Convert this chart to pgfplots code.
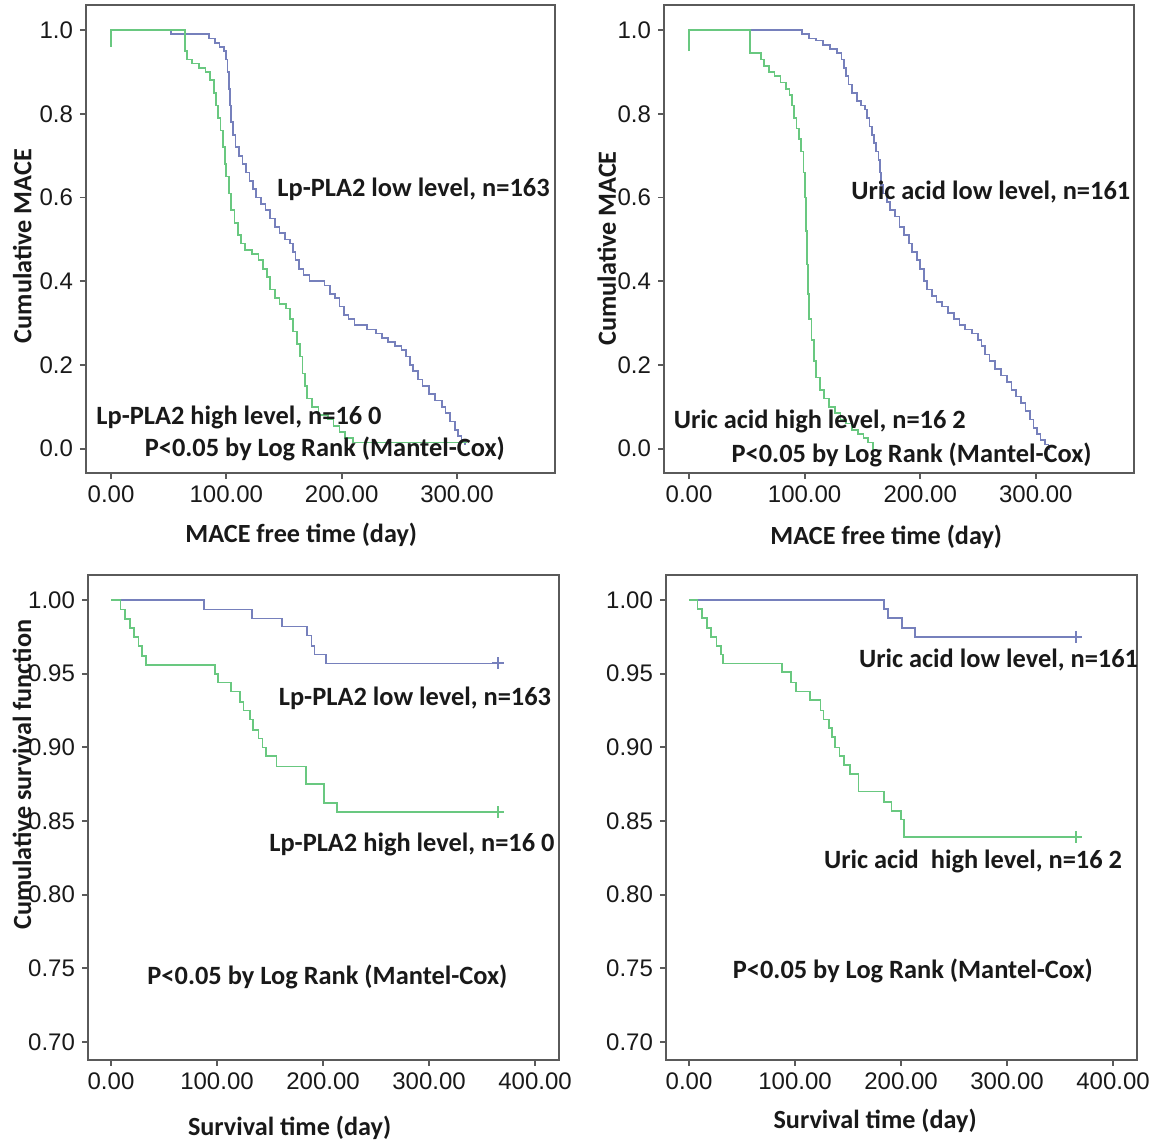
\documentclass[border=0pt]{standalone}
\usepackage{fontspec}
\setmainfont{Carlito}
\newfontfamily\tickfont{Liberation Sans}
\usepackage{pgfplots}
\pgfplotsset{compat=1.18}
\definecolor{kmblue}{RGB}{118,128,188}
\definecolor{kmgreen}{RGB}{105,200,128}
\definecolor{axisgray}{RGB}{90,90,90}
\definecolor{txt}{RGB}{25,25,25}

\pgfplotstableread{
x y
0 1.0
52 0.99
85 0.98
90 0.97
94 0.96
98 0.95
100 0.93
101 0.90
102 0.86
103 0.82
104 0.78
106 0.75
108 0.72
111 0.70
114 0.68
117 0.66
120 0.64
123 0.62
126 0.60
130 0.585
134 0.57
138 0.55
142 0.53
146 0.515
151 0.50
155 0.49
158 0.47
160 0.45
163 0.43
167 0.415
172 0.40
185 0.39
190 0.37
194 0.36
198 0.34
202 0.32
206 0.31
211 0.295
222 0.285
230 0.275
235 0.265
240 0.255
246 0.245
252 0.235
256 0.22
259 0.20
262 0.185
266 0.165
270 0.15
276 0.13
281 0.115
287 0.10
290 0.085
294 0.065
298 0.045
301 0.03
304 0.02
307 0.012
308 0.012
}\tlblue

\pgfplotstableread{
x y
0 0.96
0 1.0
64 0.95
66 0.93
70 0.92
76 0.91
82 0.90
86 0.88
89 0.85
91 0.82
93 0.79
95 0.76
97 0.72
99 0.68
100 0.65
102 0.61
104 0.57
107 0.54
110 0.51
113 0.49
116 0.475
122 0.465
128 0.45
132 0.43
135 0.41
138 0.38
142 0.36
146 0.345
152 0.335
155 0.31
158 0.28
161 0.25
164 0.22
166 0.18
168 0.15
170 0.12
174 0.10
180 0.08
188 0.07
193 0.055
198 0.04
203 0.025
210 0.015
309 0.015
}\tlgreen

\pgfplotstableread{
x y
0 1.0
98 0.99
104 0.98
110 0.975
116 0.965
122 0.955
128 0.945
132 0.93
134 0.91
136 0.89
138 0.87
141 0.85
145 0.83
149 0.82
152 0.81
154 0.79
156 0.77
158 0.75
160 0.73
162 0.71
164 0.69
165 0.66
166 0.63
168 0.61
171 0.59
174 0.57
178 0.555
182 0.53
186 0.51
190 0.49
193 0.47
197 0.45
200 0.43
203 0.40
206 0.38
210 0.365
214 0.35
219 0.34
224 0.325
229 0.31
234 0.295
239 0.285
245 0.275
250 0.26
253 0.245
256 0.225
260 0.21
265 0.19
270 0.175
275 0.16
279 0.14
283 0.125
287 0.11
291 0.09
295 0.07
298 0.05
301 0.035
304 0.02
308 0.01
311 0.0
312 0.0
}\trblue

\pgfplotstableread{
x y
0 0.95
0 1.0
53 0.945
62 0.93
65 0.915
69 0.90
74 0.89
79 0.875
84 0.86
87 0.845
89 0.82
91 0.79
93 0.765
95 0.74
97 0.71
99 0.66
100 0.60
101 0.52
102 0.44
103 0.37
104 0.31
106 0.26
108 0.21
110 0.17
113 0.14
117 0.12
121 0.10
126 0.085
131 0.07
136 0.06
141 0.045
146 0.035
151 0.025
155 0.015
159 0.0
160 0.0
}\trgreen

\pgfplotstableread{
x y
0 1.0
88 0.9935
133 0.9875
161 0.982
185 0.976
189 0.969
192 0.963
203 0.957
365 0.957
}\blblue

\pgfplotstableread{
x y
0 1.0
9 0.9935
13 0.987
18 0.981
22 0.975
26 0.969
29 0.962
33 0.956
98 0.950
101 0.944
113 0.938
122 0.931
125 0.925
131 0.919
134 0.912
139 0.906
143 0.900
146 0.894
156 0.887
184 0.875
201 0.862
213 0.856
365 0.856
}\blgreen

\pgfplotstableread{
x y
0 1.0
184 0.994
188 0.988
201 0.981
213 0.975
365 0.975
}\brblue

\pgfplotstableread{
x y
0 1.0
8 0.994
12 0.988
17 0.981
21 0.975
26 0.969
30 0.963
32 0.957
88 0.951
96 0.944
101 0.938
114 0.932
124 0.925
127 0.919
132 0.913
135 0.907
138 0.900
142 0.894
146 0.888
152 0.882
160 0.870
184 0.863
191 0.857
200 0.851
203 0.839
365 0.839
}\brgreen

\tikzset{ann/.style={anchor=west, font=\bfseries\fontsize{13.2}{15}\selectfont, text=txt, inner sep=0pt}}

\pgfplotsset{
  kmaxis/.style={
    scale only axis,
    anchor=south west,
    clip mode=individual,
    axis line style={draw=axisgray, line width=0.9pt},
    tick align=outside,
    tick pos=left,
    major tick length=3pt,
    every tick/.style={draw=axisgray, line width=0.9pt},
    ticklabel style={font=\tickfont\fontsize{12}{14}\selectfont, text=txt},
    label style={font=\bfseries\fontsize{13.1}{15}\selectfont, text=txt},
  },
  kmtop/.style={
    kmaxis,
    width=234.5pt, height=234pt,
    xmin=-21.7, xmax=385, ymin=-0.058, ymax=1.06,
    xtick={0,100,200,300}, xticklabels={0.00,100.00,200.00,300.00},
    ytick={0,0.2,0.4,0.6,0.8,1.0}, yticklabels={0.0,0.2,0.4,0.6,0.8,1.0},
  },
  kmbot/.style={
    kmaxis,
    width=235.5pt, height=242.5pt,
    xmin=-21.7, xmax=422.6, ymin=0.6878, ymax=1.017,
    xtick={0,100,200,300,400}, xticklabels={0.00,100.00,200.00,300.00,400.00},
    ytick={0.70,0.75,0.80,0.85,0.90,0.95,1.00}, yticklabels={0.70,0.75,0.80,0.85,0.90,0.95,1.00},
  },
  bl/.style={const plot, color=kmblue, line width=0.85pt, no marks},
  gr/.style={const plot, color=kmgreen, line width=0.85pt, no marks},
}

\begin{document}
\begin{tikzpicture}
\useasboundingbox (0,0) rectangle (578pt,571.5pt);

% top-left
\begin{axis}[kmtop, at={(43pt,335pt)},
  xlabel={MACE free time (day)}, ylabel={Cumulative MACE},
  xlabel style={at={(axis description cs:0.459,-0.132)}, anchor=center},
  ylabel style={at={(axis description cs:-0.136,0.485)}, anchor=center}]
\addplot[bl] table {\tlblue};
\addplot[gr] table {\tlgreen};
\node[ann] at (axis cs:144,0.62) {Lp-PLA2 low level, n=163};
\node[ann] at (axis cs:-13,0.075) {Lp-PLA2 high level, n=16 0};
\node[ann] at (axis cs:29,0.0) {P<0.05 by Log Rank (Mantel-Cox)};
\end{axis}

% top-right
\begin{axis}[kmtop, at={(332pt,335pt)}, width=235pt,
  xlabel={MACE free time (day)}, ylabel={Cumulative MACE},
  xlabel style={at={(axis description cs:0.473,-0.137)}, anchor=center},
  ylabel style={at={(axis description cs:-0.122,0.48)}, anchor=center}]
\addplot[bl] table {\trblue};
\addplot[gr] table {\trgreen};
\node[ann] at (axis cs:140,0.614) {Uric acid low level, n=161};
\node[ann] at (axis cs:-13.6,0.066) {Uric acid high level, n=16 2};
\node[ann] at (axis cs:36.5,-0.014) {P<0.05 by Log Rank (Mantel-Cox)};
\end{axis}

% bottom-left
\begin{axis}[kmbot, at={(44pt,41.5pt)},
  xlabel={Survival time (day)}, ylabel={Cumulative survival function},
  xlabel style={at={(axis description cs:0.428,-0.14)}, anchor=center},
  ylabel style={at={(axis description cs:-0.14,0.588)}, anchor=center}]
\addplot[bl] table {\blblue};
\addplot[gr] table {\blgreen};
\addplot[only marks, mark=+, mark size=3pt, color=kmblue, line width=0.9pt] coordinates {(365,0.957)};
\addplot[only marks, mark=+, mark size=3pt, color=kmgreen, line width=0.9pt] coordinates {(365,0.856)};
\node[ann] at (axis cs:158,0.933) {Lp-PLA2 low level, n=163};
\node[ann] at (axis cs:149,0.834) {Lp-PLA2 high level, n=16 0};
\node[ann] at (axis cs:34,0.744) {P<0.05 by Log Rank (Mantel-Cox)};
\end{axis}

% bottom-right
\begin{axis}[kmbot, at={(333pt,41.5pt)},
  xlabel={Survival time (day)},
  xlabel style={at={(axis description cs:0.444,-0.126)}, anchor=center}]
\addplot[bl] table {\brblue};
\addplot[gr] table {\brgreen};
\addplot[only marks, mark=+, mark size=3pt, color=kmblue, line width=0.9pt] coordinates {(365,0.975)};
\addplot[only marks, mark=+, mark size=3pt, color=kmgreen, line width=0.9pt] coordinates {(365,0.839)};
\node[ann] at (axis cs:160,0.959) {Uric acid low level, n=161};
\node[ann] at (axis cs:127,0.8226) {Uric acid\ \ high level, n=16 2};
\node[ann] at (axis cs:41,0.748) {P<0.05 by Log Rank (Mantel-Cox)};
\end{axis}
\end{tikzpicture}
\end{document}
